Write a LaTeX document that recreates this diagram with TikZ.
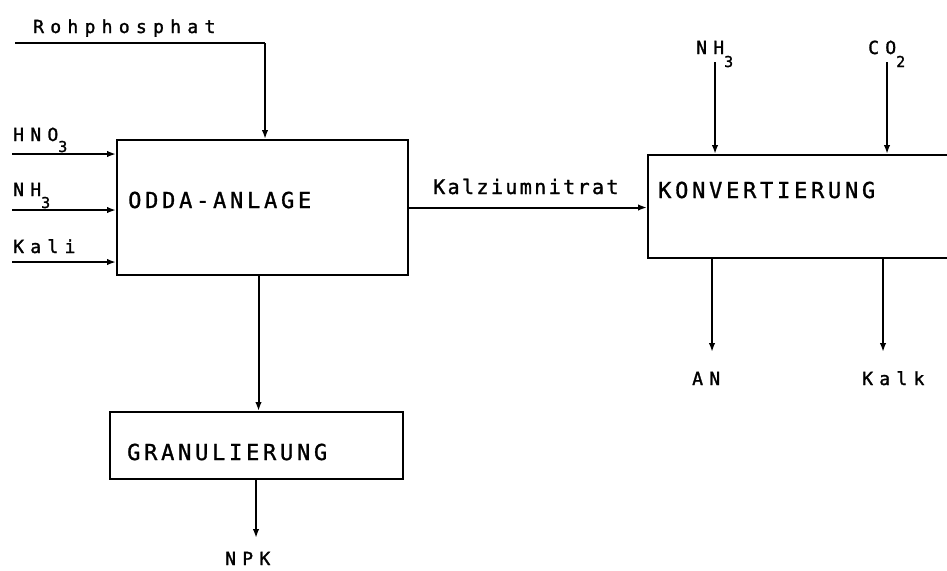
\documentclass[tikz,border=0pt]{standalone}
\usepackage{fontspec}
\usetikzlibrary{arrows.meta}
\newfontfamily\plotfont[LetterSpace=35,FakeBold=1.5]{DejaVu Sans Mono}
\newfontfamily\plotfontb[LetterSpace=12,FakeBold=1.5]{DejaVu Sans Mono}
\newfontfamily\plotfontc[LetterSpace=17,FakeBold=1.2]{DejaVu Sans Mono}
\newcommand{\lowsub}[2]{\raisebox{#1}{\fontsize{15}{15}\selectfont #2}}
\tikzset{
  box/.style={draw, line width=2pt, inner sep=0pt},
  arr/.style={line width=2pt, -{Latex[length=9pt,width=6.5pt]}},
  plain/.style={line width=2pt},
  lbl/.style={anchor=base west, inner sep=0pt, font=\fontsize{18}{18}\plotfont},
  lblb/.style={anchor=base west, inner sep=0pt, font=\fontsize{20}{20}\plotfontb},
  boxtxt/.style={anchor=base west, inner sep=0pt, font=\fontsize{22}{22}\plotfontc}
}
\begin{document}
\begin{tikzpicture}[x=1pt,y=-1pt]
\useasboundingbox (0,0) rectangle (947,570);
\clip (0,0) rectangle (947,570);
% boxes
\node[box, minimum width=291pt, minimum height=135pt] (odda) at (262.5,207.5) {};
\node[box, minimum width=293pt, minimum height=67pt] (gran) at (256.5,445.5) {};
\node[box, minimum width=332pt, minimum height=103pt] (konv) at (814,206.5) {};
% box texts
\node[boxtxt] (toddA) at (128,208) {ODDA-ANLAGE};
\node[boxtxt] (tgran) at (127,460) {GRANULIERUNG};
\node[boxtxt] (tkonv) at (658,198) {KONVERTIERUNG};
% free ends
\coordinate (rpA) at (15,43);
\coordinate (rpB) at (265,43);
\coordinate (hno) at (12,154);
\coordinate (nhl) at (12,210);
\coordinate (kali) at (12,262);
\coordinate (nht) at (715,62);
\coordinate (cot) at (887,62);
\coordinate (an) at (712,352);
\coordinate (kalk) at (883,352);
\coordinate (og) at (258.5,0);
\coordinate (npk) at (256,538);
% connectors
\draw[plain] (rpA) -- (rpB);
\draw[arr] (rpB) -- (rpB |- odda.north);
\draw[arr] (hno) -- (hno -| odda.west);
\draw[arr] (nhl) -- (nhl -| odda.west);
\draw[arr] (kali) -- (kali -| odda.west);
\draw[arr] (odda.east) -- (odda.east -| konv.west);
\draw[arr] (nht) -- (nht |- konv.north);
\draw[arr] (cot) -- (cot |- konv.north);
\draw[arr] (an |- konv.south) -- (an);
\draw[arr] (kalk |- konv.south) -- (kalk);
\draw[arr] (odda.south -| og) -- (gran.north -| og);
\draw[arr] (gran.south -| npk) -- (npk);
% labels
\node[lbl] (trp) at (33,33) {Rohphosphat};
\node[lbl] (thno) at (13,141) {HNO\lowsub{-11pt}{3}};
\node[lbl] (tnhl) at (13,196) {NH\lowsub{-12pt}{3}};
\node[lbl] (tkali) at (13,253) {Kali};
\node[lblb] (tkz) at (433,194) {Kalziumnitrat};
\node[lbl] (tnht) at (696,54) {NH\lowsub{-13pt}{3}};
\node[lbl] (tcot) at (868,54) {CO\lowsub{-13pt}{2}};
\node[lbl] (tan) at (692,385) {AN};
\node[lbl] (tkalk) at (862,385) {Kalk};
\node[lbl] (tnpk) at (225,565) {NPK};
\end{tikzpicture}
\end{document}
